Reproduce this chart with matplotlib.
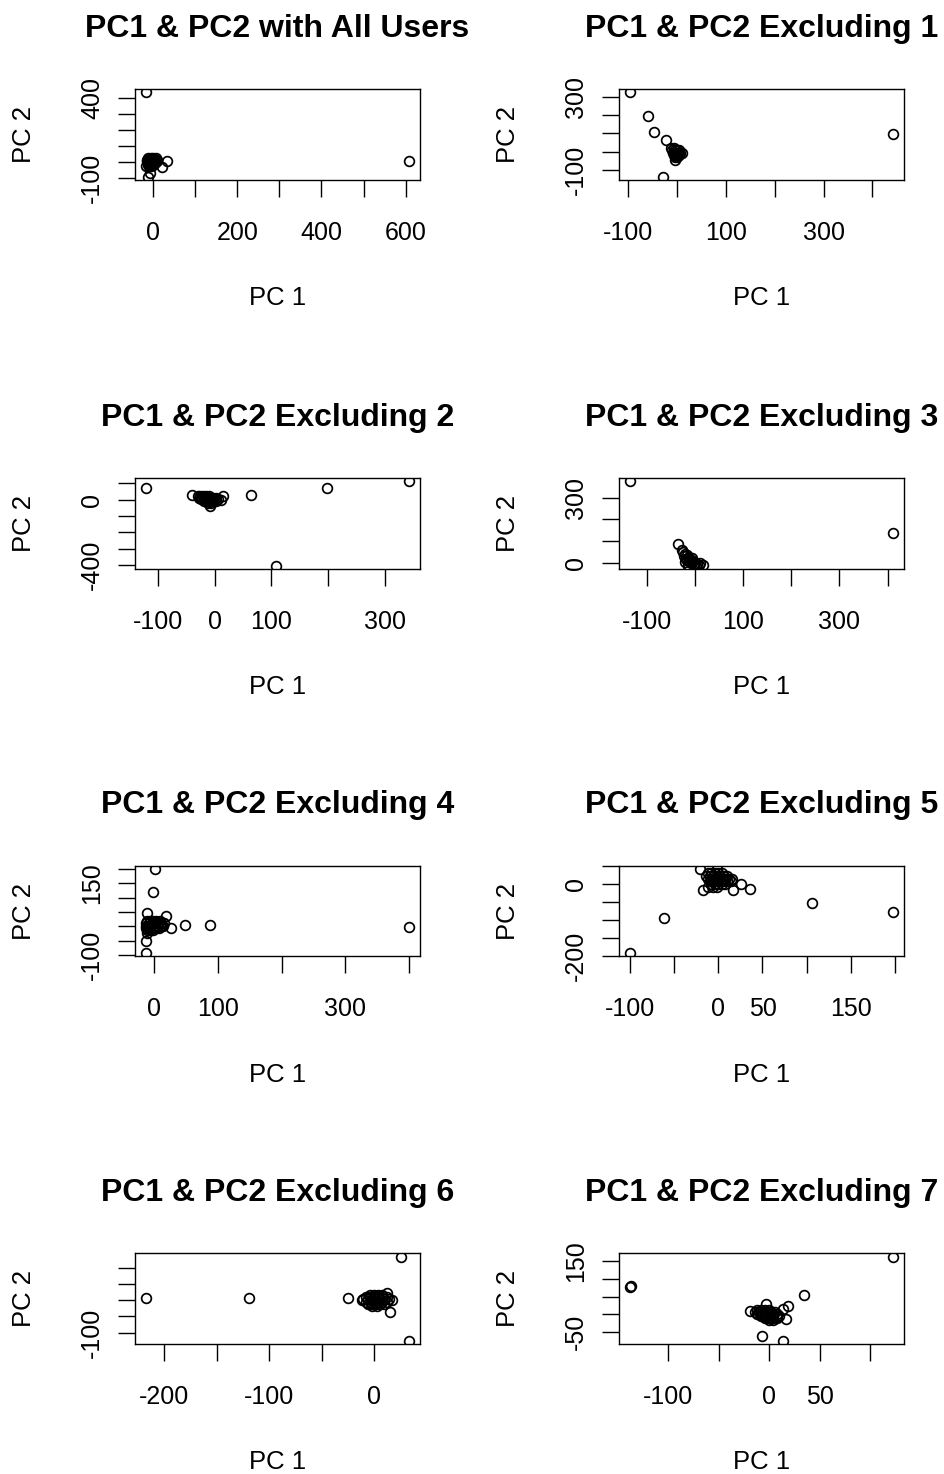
import matplotlib
matplotlib.use("Agg")
import matplotlib.pyplot as plt

plt.rcParams['font.family'] = ['Liberation Sans', 'DejaVu Sans']

titles = ["PC1 & PC2 with All Users", "PC1 & PC2 Excluding 1", "PC1 & PC2 Excluding 2",
          "PC1 & PC2 Excluding 3", "PC1 & PC2 Excluding 4", "PC1 & PC2 Excluding 5",
          "PC1 & PC2 Excluding 6", "PC1 & PC2 Excluding 7"]

p1_x = [-16, 609, 32, 20, -18, -8, -12,
        -12, -6, 0, 6, -15, -9, -3, 3, 9, -14, -8, -2, 4, 10, -13, -7, -1, 5, -12, -6, 0, -10, -4]
p1_y = [436, 8, 10, -32, -26, -67, -90,
        25, 25, 25, 25, 15, 15, 15, 15, 15, 5, 5, 5, 5, 5, -5, -5, -5, -5, -15, -15, -15, -25, -25]

p2_x = [-97, -60, -46, -22, -29, 443,
        -12, -7, -10, -5, 0, 5, -8, -3, 2, 7, 10, -6, -1, 4, -5, 0, -3]
p2_y = [323, 195, 107, 66, -134, 95,
        20, 20, 8, 8, 8, 8, -4, -4, -4, -4, -4, -16, -16, -16, -28, -28, -45]

p3_x = [-122, 198, 344, 65, 109, -39.5, 15, 12, -9,
        -30, -25, -20, -15, -10, -28, -23, -18, -13, -8, -3, 2, -24, -19, -14, -9, -4, 1, 6,
        -18, -13, -8, -3, 2, -12, -7]
p3_y = [74, 74, 113, 27, -405, 27, 22, -4, -40,
        22, 22, 22, 22, 22, 12, 12, 12, 12, 12, 12, 12, 2, 2, 2, 2, 2, 2, 2,
        -8, -8, -8, -8, -8, -18, -18]

p4_x = [-135.6, 412, -36, 17,
        -27, -24, -20, -22, -16, -12, -18, -8, -12, -4, -8, 0, -2, 4, 8, -14, 10, -20, -14, 3, -16, -6]
p4_y = [374, 136, 89.5, -6,
        62, 52, 44, 32, 36, 26, 20, 16, 10, 8, 0, 2, -6, -2, -8, -6, 0, 6, -11, -11, 14, 22]

p5_x = [1, -2.5, -11.5, 18.4, 26, 48, 87.7, 400.6, -14, -14,
        -12, -7, -2, 3, 8, -14, -9, -4, 1, 6, 11, 15, -14, -10, -5, 0, 5, 10, 14,
        -13, -8, -3, 2, 7, -12, -7, -2, -11]
p5_y = [201, 119, 48, 35, -5, 3.5, 3.5, -2, -53, -94,
        18, 18, 18, 18, 18, 10, 10, 10, 10, 10, 10, 10, 2, 2, 2, 2, 2, 2, 2,
        -6, -6, -6, -6, -6, -14, -14, -14, -22]

p6_x = [-21, -1, -17.5, 17, 26, 35.5, 106.6, 198.4, -62, -100.6,
        -12, -8, -4, 0, 4, -14, -10, -6, -2, 2, 6, 10, -12, -8, -4, 0, 4, 8, 12, 16,
        -10, -6, -2, 2, 6, 10, 14, -8, -4, 0, 4, 8, -12, -6, -1]
p6_y = [41, 41, -18, -16.5, -2, -14, -53, -80, -96, -193,
        30, 30, 30, 30, 30, 22, 22, 22, 22, 22, 22, 22, 14, 14, 14, 14, 14, 14, 14, 14,
        6, 6, 6, 6, 6, 6, 6, -2, -2, -2, -2, -2, -10, -10, -10]

p7_x = [-218, -119.6, -24.5, 25.6, 33.9, 15.3, -11.8, 12, 17,
        -4, 0, 4, 8, -8, -4, 0, 4, 8, 12, -10, -6, -2, 2, 6, 10, 14,
        -8, -4, 0, 4, 8, 12, -6, -2, 2, 6, 10, -2, 3]
p7_y = [8, 8, 8, 134, -126, -36, 0, 21, 0,
        16, 16, 16, 16, 9, 9, 9, 9, 9, 9, 2, 2, 2, 2, 2, 2, 2,
        -5, -5, -5, -5, -5, -5, -12, -12, -12, -12, -12, -19, -19]

p8_x = [122.8, -138, -137, 34.7, 18.8, 16.5, -7.5, 13.3, -18.8, -3.3, 14,
        -12, -8, -4, 0, -14, -10, -6, -2, 2, 6, -12, -8, -4, 0, 4, 8,
        -8, -4, 0, 4, 8, 10, -4, 0, 4, 8, 0, 4]
p8_y = [163, 77, 79, 56, 25, -14, -62, -74.5, 11, 30.7, 15,
        14, 14, 14, 14, 8, 8, 8, 8, 8, 8, 2, 2, 2, 2, 2, 2,
        -4, -4, -4, -4, -4, -4, -10, -10, -10, -10, -16, -16]

xs = [p1_x, p2_x, p3_x, p4_x, p5_x, p6_x, p7_x, p8_x]
ys = [p1_y, p2_y, p3_y, p4_y, p5_y, p6_y, p7_y, p8_y]

x_ticks = [[0, 100, 200, 300, 400, 500, 600], [-100, 0, 100, 200, 300, 400],
           [-100, 0, 100, 200, 300], [-100, 0, 100, 200, 300, 400],
           [0, 100, 200, 300, 400], [-100, -50, 0, 50, 100, 150, 200],
           [-200, -150, -100, -50, 0], [-100, -50, 0, 50, 100]]
x_labels = [["0", "", "200", "", "400", "", "600"], ["-100", "", "100", "", "300", ""],
            ["-100", "0", "100", "", "300"], ["-100", "", "100", "", "300", ""],
            ["0", "100", "", "300", ""], ["-100", "", "0", "50", "", "150", ""],
            ["-200", "", "-100", "", "0"], ["-100", "", "0", "50", ""]]
y_ticks = [[-100, 0, 100, 200, 300, 400], [-100, 0, 100, 200, 300],
           [-400, -300, -200, -100, 0, 100], [0, 100, 200, 300],
           [-100, -50, 0, 50, 100, 150, 200], [-200, -150, -100, -50, 0, 50],
           [-100, -50, 0, 50, 100], [-50, 0, 50, 100, 150]]
y_labels = [["-100", "", "", "", "", "400"], ["-100", "", "", "", "300"],
            ["-400", "", "", "", "0", ""], ["0", "", "", "300"],
            ["-100", "", "", "", "", "150", ""], ["-200", "", "", "", "0", ""],
            ["-100", "", "", "", ""], ["-50", "", "", "", "150"]]

W, H = 944, 1474
fig = plt.figure(figsize=(W / 100, H / 100), dpi=100)

col_left = [135, 619]
box_w = 285
row_top = [89, 478, 865.5, 1253.3]
box_h = 91

for i in range(8):
    r, c = divmod(i, 2)
    L = col_left[c]
    T = row_top[r]
    ax = fig.add_axes([L / W, 1 - (T + box_h) / H, box_w / W, box_h / H])
    ax.plot(xs[i], ys[i], 'o', mfc='none', mec='black', ms=7, mew=1.25)
    ax.margins(0.04)
    ax.set_xticks(x_ticks[i])
    ax.set_xticklabels(x_labels[i])
    ax.set_yticks(y_ticks[i])
    ax.set_yticklabels(y_labels[i], rotation=90, va='center')
    ax.tick_params(direction='out', length=12.2, width=1.0, labelsize=18, pad=17)
    ax.tick_params(axis='y', pad=10)
    for s in ax.spines.values():
        s.set_linewidth(1.0)
    cx = L + box_w / 2
    fig.text(cx / W, 1 - (T - 60) / H, titles[i], ha='center', va='center',
             fontsize=23, fontweight='bold')
    fig.text(cx / W, 1 - (T + 209) / H, "PC 1", ha='center', va='center', fontsize=18.5)
    fig.text((L - 111) / W, 1 - (T + box_h / 2) / H, "PC 2", ha='center', va='center',
             rotation=90, fontsize=18.5)

fig.savefig("out.png", dpi=100, facecolor='white')
